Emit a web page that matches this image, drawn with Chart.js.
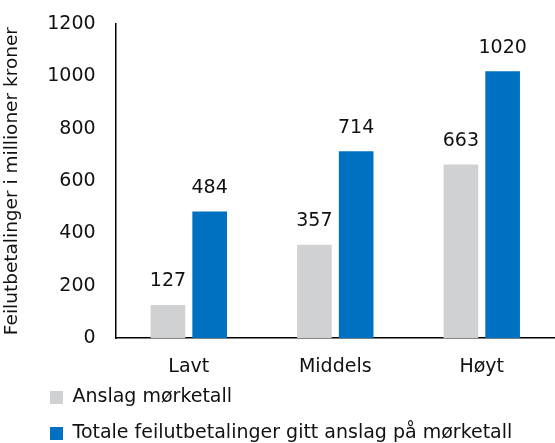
<!DOCTYPE html>
<html>
<head>
<meta charset="utf-8">
<script src="https://cdn.jsdelivr.net/npm/chart.js@4"></script>
<style>
  html, body { margin: 0; padding: 0; background: #fff; }
  #wrap { width: 555px; height: 443px; }
</style>
</head>
<body>
<div id="wrap"><canvas id="chart"></canvas></div>
<script>
const categories = ["Lavt", "Middels", "Høyt"];
const seriesNames = ["Anslag mørketall", "Totale feilutbetalinger gitt anslag på mørketall"];
const anslag = [127, 357, 663];
const totale = [484, 714, 1020];
const yTicks = [0, 200, 400, 600, 800, 1000, 1200];

const FONT = "'DejaVu Sans', sans-serif";

// values above each bar
const barLabels = {
  id: "barLabels",
  afterDatasetsDraw(chart) {
    const ctx = chart.ctx;
    ctx.save();
    ctx.font = "19px " + FONT;
    ctx.fillStyle = "#111";
    ctx.textAlign = "center";
    ctx.textBaseline = "bottom";
    chart.data.datasets.forEach((ds, i) => {
      chart.getDatasetMeta(i).data.forEach((bar, j) => {
        ctx.fillText(ds.data[j], bar.x, bar.y - 14);
      });
    });
    ctx.restore();
  }
};

// legend: keep it compact in the layout and nudge it into place
const legendTweak = {
  id: "legendTweak",
  beforeLayout(chart) {
    const lg = chart.legend;
    if (lg && !lg._patched) {
      const fit = lg.fit;
      lg.fit = function () {
        fit.call(this);
        this.height = 48;
      };
      lg._patched = true;
    }
  },
  afterLayout(chart) {
    chart.legend.left += 32;
    chart.legend.top -= 24;
  }
};

new Chart(document.getElementById("chart"), {
  type: "bar",
  data: {
    labels: categories,
    datasets: [
      { label: seriesNames[0], data: anslag, backgroundColor: "#D0D1D3" },
      { label: seriesNames[1], data: totale, backgroundColor: "#0070C0" }
    ]
  },
  options: {
    responsive: true,
    maintainAspectRatio: false,
    animation: false,
    layout: { padding: { top: 24, right: 0, left: 1, bottom: 0 } },
    datasets: { bar: { categoryPercentage: 0.57, barPercentage: 0.83 } },
    scales: {
      x: {
        grid: { display: false, drawTicks: false },
        border: { display: true, color: "#000", width: 1.5 },
        ticks: { color: "#111", font: { family: FONT, size: 19 }, padding: 17 }
      },
      y: {
        min: 0,
        max: 1200,
        afterBuildTicks(axis) { axis.ticks = yTicks.map(v => ({ value: v })); },
        afterFit(axis) {
          // tick padding should not push the plot top down
          axis.paddingTop = 0;
          axis.paddingBottom = 0;
        },
        grid: { display: false, drawTicks: false },
        border: { display: true, color: "#000", width: 1.5 },
        ticks: {
          color: "#111",
          font: { family: FONT, size: 19 },
          padding: 20,
          callback: v => String(v)
        },
        title: {
          display: true,
          text: "Feilutbetalinger i millioner kroner",
          color: "#111",
          font: { family: FONT, size: 18.5 },
          padding: { top: 0, bottom: 4 }
        }
      }
    },
    plugins: {
      tooltip: { enabled: false },
      legend: {
        position: "bottom",
        align: "start",
        labels: {
          color: "#111",
          font: { family: FONT, size: 19 },
          boxWidth: 13,
          boxHeight: 13,
          padding: 17
        }
      }
    }
  },
  plugins: [barLabels, legendTweak]
});
</script>
</body>
</html>
